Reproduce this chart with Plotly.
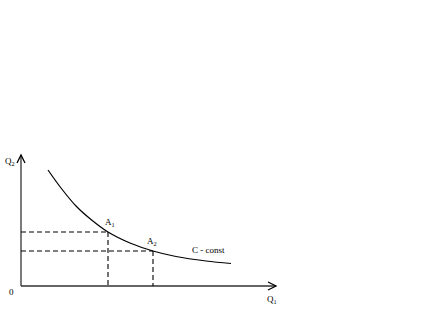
import plotly.graph_objects as go

# Curve C = const (data coordinates: origin at the axes' corner)
curve_q1 = [27, 40, 55, 70, 87, 109, 132, 155, 185, 210]
curve_q2 = [116, 98, 80, 66.5, 54, 43, 35, 29.5, 25, 22.5]

# Marked points
point_names = ["A<sub>1</sub>", "A<sub>2</sub>"]
point_q1 = [87, 132]
point_q2 = [54, 35]
label_dx = [2, -1]

x_axis_len = 255
y_axis_len = 131

fig = go.Figure()

fig.add_trace(go.Scatter(x=curve_q1, y=curve_q2, mode="lines",
                         line=dict(color="black", width=1.2, shape="spline", smoothing=1.0),
                         hoverinfo="skip"))

axis_col = "#333333"
shapes = []
# axes
shapes.append(dict(type="line", x0=0, y0=0, x1=x_axis_len, y1=0, line=dict(color=axis_col, width=1.3)))
shapes.append(dict(type="line", x0=0, y0=0, x1=0, y1=y_axis_len, line=dict(color=axis_col, width=1.3)))
# arrowheads
shapes.append(dict(type="path", path=f"M {x_axis_len-8},4 L {x_axis_len},0 L {x_axis_len-8},-4",
                   line=dict(color="black", width=1.3)))
shapes.append(dict(type="path", path=f"M -4,{y_axis_len-8} L 0,{y_axis_len} L 4,{y_axis_len-8}",
                   line=dict(color="black", width=1.3)))
# dashed projections
for px, py in zip(point_q1, point_q2):
    shapes.append(dict(type="line", x0=0, y0=py, x1=px, y1=py,
                       line=dict(color="black", width=1.1, dash="5px,3px")))
    shapes.append(dict(type="line", x0=px, y0=py, x1=px, y1=0,
                       line=dict(color="black", width=1.1, dash="5px,3px")))

font = dict(family="Liberation Serif, Times New Roman, serif", size=9, color="black")
annotations = []
for name, px, py, dx in zip(point_names, point_q1, point_q2, label_dx):
    annotations.append(dict(x=px + dx, y=py + 2, text=name, showarrow=False,
                            xanchor="center", yanchor="bottom", font=font))
annotations += [
    dict(x=-11, y=125, text="Q<sub>2</sub>", showarrow=False, xanchor="center", yanchor="middle", font=font),
    dict(x=-10, y=-6, text="0", showarrow=False, xanchor="center", yanchor="middle", font=font),
    dict(x=251, y=-13, text="Q<sub>1</sub>", showarrow=False, xanchor="center", yanchor="middle", font=font),
    dict(x=187, y=36, text="C - const", showarrow=False, xanchor="center", yanchor="middle", font=font),
]

fig.update_layout(
    width=438, height=310, margin=dict(l=0, r=0, t=0, b=0),
    paper_bgcolor="white", plot_bgcolor="white", showlegend=False,
    xaxis=dict(range=[-21, 417], visible=False, fixedrange=True),
    yaxis=dict(range=[-24, 286], visible=False, fixedrange=True),
    shapes=shapes, annotations=annotations,
)

fig.write_html("out.html")
